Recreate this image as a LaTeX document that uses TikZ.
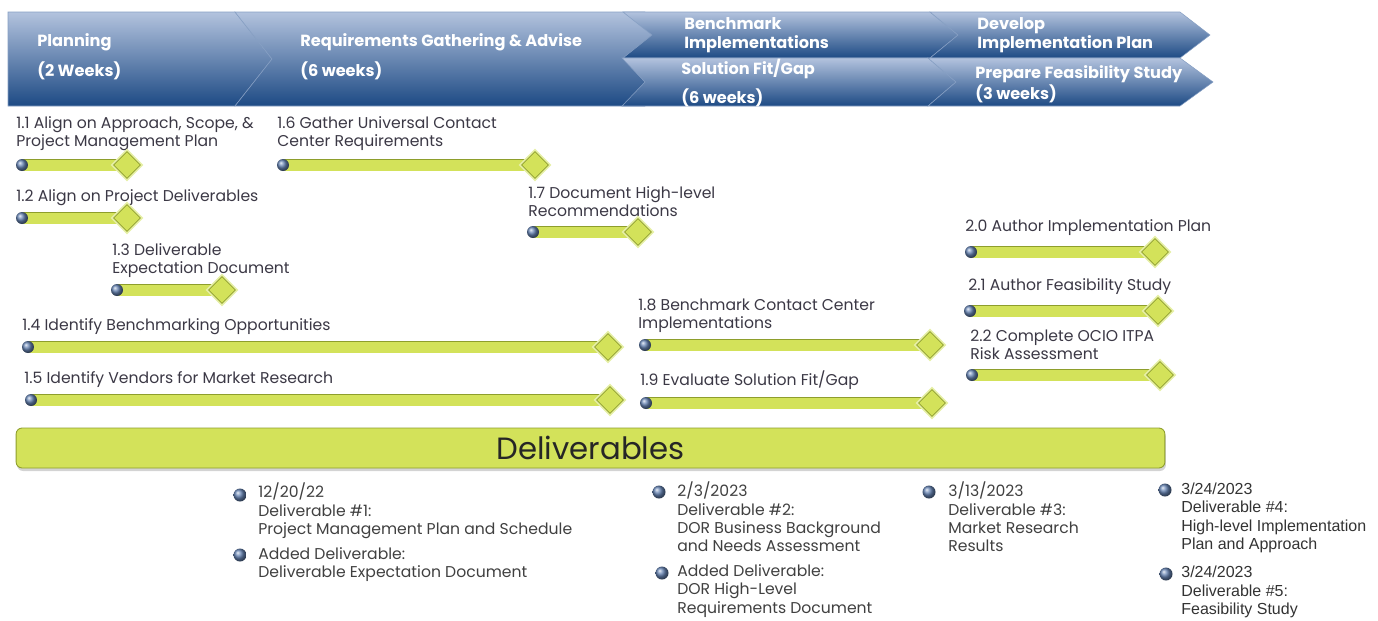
\documentclass[tikz,border=0pt]{standalone}
\usepackage{fontspec}
\setmainfont{Poppins}
\newfontfamily\arialFont{Liberation Sans}
\usetikzlibrary{shapes,arrows,positioning,backgrounds,shadows}

\definecolor{chevTop}{HTML}{B3C3DE}
\definecolor{chevBot}{HTML}{1D4A84}
\definecolor{barFill}{HTML}{D3E25A}
\definecolor{barLine}{HTML}{8E9E2C}
\definecolor{barGlow}{HTML}{E6EFA6}
\definecolor{dotBlue}{HTML}{6684B4}
\definecolor{taskText}{HTML}{3B3845}
\definecolor{delivText}{HTML}{404040}

\tikzstyle{chevron} = [top color=chevTop, bottom color=chevBot, draw=chevTop!70!chevBot, line width=0.3pt]
\tikzstyle{chevText} = [anchor=west, inner sep=0pt, text=white, align=left,
font=\fontsize{9.2}{10.5}\selectfont\bfseries]
\tikzstyle{taskLabel} = [anchor=west, inner sep=0pt, text=taskText, align=left,
font=\fontsize{8.9}{10.2}\selectfont]
\tikzstyle{startDot} = [circle, inner sep=0pt, minimum size=0.24cm, ball color=dotBlue]
\tikzstyle{endDiamond} = [diamond, inner sep=0pt, minimum size=0.54cm, fill=barFill,
draw=barLine, line width=0.4pt, preaction={draw=barGlow, line width=2.5pt}]
\tikzstyle{bar} = [draw=barLine, line width=0.4pt, double=barFill, double distance=0.22cm]
\tikzstyle{delivBox} = [rectangle, rounded corners=0.12cm, fill=barFill, draw=barLine,
line width=0.5pt, minimum width=22.98cm, minimum height=0.8cm, text=black!85,
font=\fontsize{17.5}{20}\selectfont,
drop shadow={opacity=0.35, shadow xshift=0.02cm, shadow yshift=-0.06cm}]
\tikzstyle{delivDot} = [circle, inner sep=0pt, minimum size=0.26cm, ball color=dotBlue]
\tikzstyle{delivLabel} = [anchor=west, inner sep=0pt, text=delivText, align=left,
font=\fontsize{8.9}{10.5}\selectfont]

\begin{document}
\begin{tikzpicture}[x=0.02cm, y=-0.02cm]

   \useasboundingbox (0,0) rectangle (1378,620);

   %% Phase chevrons
   \path[chevron] (8,12) -- (235,12) -- (272,59) -- (235,106) -- (8,106) -- cycle;
   \path[chevron] (235,12) -- (645,12) -- (685,59) -- (645,106) -- (235,106) -- (272,59) -- cycle;
   \path[chevron] (623,12) -- (930,12) -- (958,35) -- (930,58) -- (623,58) -- (652,35) -- cycle;
   \path[chevron] (930,12) -- (1180,12) -- (1210,35) -- (1180,58) -- (930,58) -- (958,35) -- cycle;
   \path[chevron] (622,58) -- (928,58) -- (956,82) -- (928,106) -- (622,106) -- (645,82) -- cycle;
   \path[chevron] (928,58) -- (1180,58) -- (1213,82) -- (1180,106) -- (928,106) -- (956,82) -- cycle;

   \node[chevText] (plan) at (37,57) {Planning\\[5pt](2 Weeks)};
   \node[chevText] (reqs) at (300,57) {Requirements Gathering \& Advise\\[5pt](6 weeks)};
   \node[chevText] (bench) at (684,35) {Benchmark\\[0.5pt]Implementations};
   \node[chevText] (fitGap) at (681,83) {Solution Fit/Gap\\[4.5pt](6 weeks)};
   \node[chevText] (devPlan) at (977,35) {Develop\\[0.5pt]Implementation Plan};
   \node[chevText] (feas) at (975,84) {Prepare Feasibility Study\\[0pt](3 weeks)};

   %% Tasks
   \node[taskLabel] (lbl11) at (16,134) {1.1 Align on Approach, Scope, \&\\Project Management Plan};
   \node[startDot] (dot11) at (22,165) {};
   \node[endDiamond] (dia11) at (127,165) {};

   \node[taskLabel] (lbl12) at (16,198) {1.2 Align on Project Deliverables};
   \node[startDot] (dot12) at (22,218) {};
   \node[endDiamond] (dia12) at (127,218) {};

   \node[taskLabel] (lbl13) at (112,261) {1.3 Deliverable\\Expectation Document};
   \node[startDot] (dot13) at (117,290) {};
   \node[endDiamond] (dia13) at (222,290) {};

   \node[taskLabel] (lbl14) at (22,327) {1.4 Identify Benchmarking Opportunities};
   \node[startDot] (dot14) at (28,347) {};
   \node[endDiamond] (dia14) at (608,347) {};

   \node[taskLabel] (lbl15) at (24,380) {1.5 Identify Vendors for Market Research};
   \node[startDot] (dot15) at (31,400) {};
   \node[endDiamond] (dia15) at (610,400) {};

   \node[taskLabel] (lbl16) at (277,134) {1.6 Gather Universal Contact\\Center Requirements};
   \node[startDot] (dot16) at (283,165) {};
   \node[endDiamond] (dia16) at (535,165) {};

   \node[taskLabel] (lbl17) at (528,202) {1.7 Document High-level\\Recommendations};
   \node[startDot] (dot17) at (533,232) {};
   \node[endDiamond] (dia17) at (638,232) {};

   \node[taskLabel] (lbl18) at (638,316) {1.8 Benchmark Contact Center\\Implementations};
   \node[startDot] (dot18) at (645,345) {};
   \node[endDiamond] (dia18) at (930,345) {};

   \node[taskLabel] (lbl19) at (640,380) {1.9 Evaluate Solution Fit/Gap};
   \node[startDot] (dot19) at (646,403) {};
   \node[endDiamond] (dia19) at (932,403) {};

   \node[taskLabel] (lbl20) at (965,228) {2.0 Author Implementation Plan};
   \node[startDot] (dot20) at (971,252) {};
   \node[endDiamond] (dia20) at (1155,252) {};

   \node[taskLabel] (lbl21) at (968,287) {2.1 Author Feasibility Study};
   \node[startDot] (dot21) at (970,311) {};
   \node[endDiamond] (dia21) at (1158,311) {};

   \node[taskLabel] (lbl22) at (970,345) {2.2 Complete OCIO ITPA\\Risk Assessment};
   \node[startDot] (dot22) at (972,375) {};
   \node[endDiamond] (dia22) at (1160,375) {};

   %% Bars
   \begin{scope}[on background layer]
   \path[bar] (dot11.center) -- (dia11.center);
   \path[bar] (dot12.center) -- (dia12.center);
   \path[bar] (dot13.center) -- (dia13.center);
   \path[bar] (dot14.center) -- (dia14.center);
   \path[bar] (dot15.center) -- (dia15.center);
   \path[bar] (dot16.center) -- (dia16.center);
   \path[bar] (dot17.center) -- (dia17.center);
   \path[bar] (dot18.center) -- (dia18.center);
   \path[bar] (dot19.center) -- (dia19.center);
   \path[bar] (dot20.center) -- (dia20.center);
   \path[bar] (dot21.center) -- (dia21.center);
   \path[bar] (dot22.center) -- (dia22.center);
   \end{scope}

   %% Deliverables
   \node[delivBox] (deliv) at (590.5,448) {Deliverables};

   \node[delivDot] (bul1) at (240,495) {};
   \node[delivLabel] (del1) at (258,511) {12/20/22\\Deliverable \#1:\\Project Management Plan and Schedule};
   \node[delivDot] (bul1b) at (240,555) {};
   \node[delivLabel] (del1b) at (258,564.5) {Added Deliverable:\\Deliverable Expectation Document};

   \node[delivDot] (bul2) at (659,492) {};
   \node[delivLabel] (del2) at (677,517) {2/3/2023\\Deliverable \#2:\\DOR Business Background\\and Needs Assessment};
   \node[delivDot] (bul2b) at (662,573) {};
   \node[delivLabel] (del2b) at (677,591) {Added Deliverable:\\DOR High-Level\\Requirements Document};

   \node[delivDot] (bul3) at (929,492) {};
   \node[delivLabel] (del3) at (948,517) {3/13/2023\\Deliverable \#3:\\Market Research\\Results};

   \node[delivDot] (bul4) at (1165,490) {};
   \node[delivLabel, font=\arialFont\fontsize{9.1}{10.5}\selectfont, text=black!80] (del4) at (1181,518)
   {3/24/2023\\Deliverable \#4:\\High-level Implementation\\Plan and Approach};
   \node[delivDot] (bul5) at (1166,574) {};
   \node[delivLabel, font=\arialFont\fontsize{9.1}{10.5}\selectfont, text=black!80] (del5) at (1181,592)
   {3/24/2023\\Deliverable \#5:\\Feasibility Study};

\end{tikzpicture}
\end{document}
